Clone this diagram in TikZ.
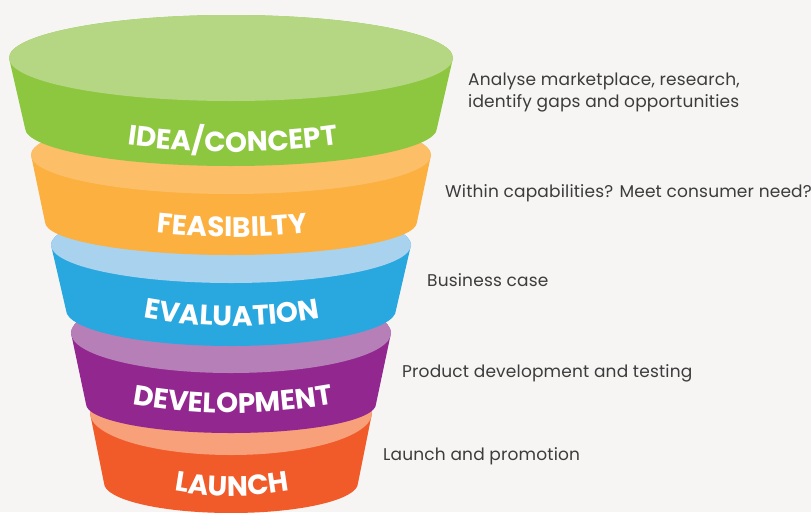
\documentclass[tikz,border=0pt]{standalone}
\usepackage{fontspec}
\setmainfont{Poppins}
\newfontfamily\stagefam{Poppins}
\newfontfamily\labelfam{Poppins}[LetterSpace=1.0]
\usetikzlibrary{decorations.text}
\definecolor{bg}{HTML}{F6F5F3}
\definecolor{greenD}{HTML}{8DC63F}
\definecolor{greenL}{HTML}{B5D683}
\definecolor{orangeD}{HTML}{FBB040}
\definecolor{orangeL}{HTML}{FDBE68}
\definecolor{blueD}{HTML}{29A8E0}
\definecolor{blueL}{HTML}{A8D2EE}
\definecolor{purpleD}{HTML}{92278F}
\definecolor{purpleL}{HTML}{B77FB7}
\definecolor{redD}{HTML}{F15A29}
\definecolor{redL}{HTML}{F7A07A}
\definecolor{labelgray}{HTML}{3C3C3C}
\newcommand\stagefont{\stagefam\fontsize{28}{28}\selectfont\bfseries}
% #1 ytop #2 rx top #3 ry top #4 ybot #5 rx bot #6 ry bot #7 dark #8 light
\newcommand\funlayer[8]{%
  \fill[#7] ({231-#2},{-#1}) -- ({231-#5},{-#4})
     arc[start angle=180,end angle=360,x radius=#5,y radius=#6]
     -- ({231+#2},{-#1})
     arc[start angle=0,end angle=180,x radius=#2,y radius=#3] -- cycle;
  \fill[#8] (231,{-#1}) ellipse[x radius=#2,y radius=#3];}
% #1 cx #2 mid baseline y #3 end baseline y #4 text
\newcommand\stagetext[4]{%
  \path[decorate,decoration={text along path,text align=center,text color=white,
    text={|\stagefont|#4}}]
    ({#1-150},{-#3}) parabola bend ({#1},{-#2}) ({#1+150},{-#3});}
\tikzset{sidelabel/.style={anchor=base west,inner sep=0pt,text=labelgray,
  font=\labelfam\fontsize{17}{17}\selectfont}}
\begin{document}
\begin{tikzpicture}[x=1pt,y=1pt]
\fill[bg] (0,0) rectangle (811,-512);
\useasboundingbox (0,0) rectangle (811,-512);
\funlayer{413}{141}{42}{483}{127}{30}{redD}{redL}
\funlayer{333}{160}{40}{404}{145}{29}{purpleD}{purpleL}
\funlayer{245}{180}{38}{310}{165}{36}{blueD}{blueL}
\funlayer{155}{200}{39}{222}{186}{33}{orangeD}{orangeL}
\funlayer{58}{222}{43}{128}{206}{38}{greenD}{greenL}
\stagetext{233}{152}{137.1}{IDEA/CONCEPT}
\stagetext{232}{237}{221}{FEASIBILTY}
\stagetext{232}{326}{302.6}{EVALUATION}
\stagetext{233}{413}{393.1}{DEVELOPMENT}
\stagetext{232}{496}{461.4}{LAUNCH}
\node[sidelabel] (l1a) at (468,-85) {Analyse marketplace, research,};
\node[sidelabel] (l1b) at (468,-107) {identify gaps and opportunities};
\node[sidelabel] (l2) at (445,-197) {Within capabilities? Meet consumer need?};
\node[sidelabel] (l3) at (427,-286) {Business case};
\node[sidelabel] (l4) at (402,-377) {Product development and testing};
\node[sidelabel] (l5) at (383,-460) {Launch and promotion};
\end{tikzpicture}
\end{document}
